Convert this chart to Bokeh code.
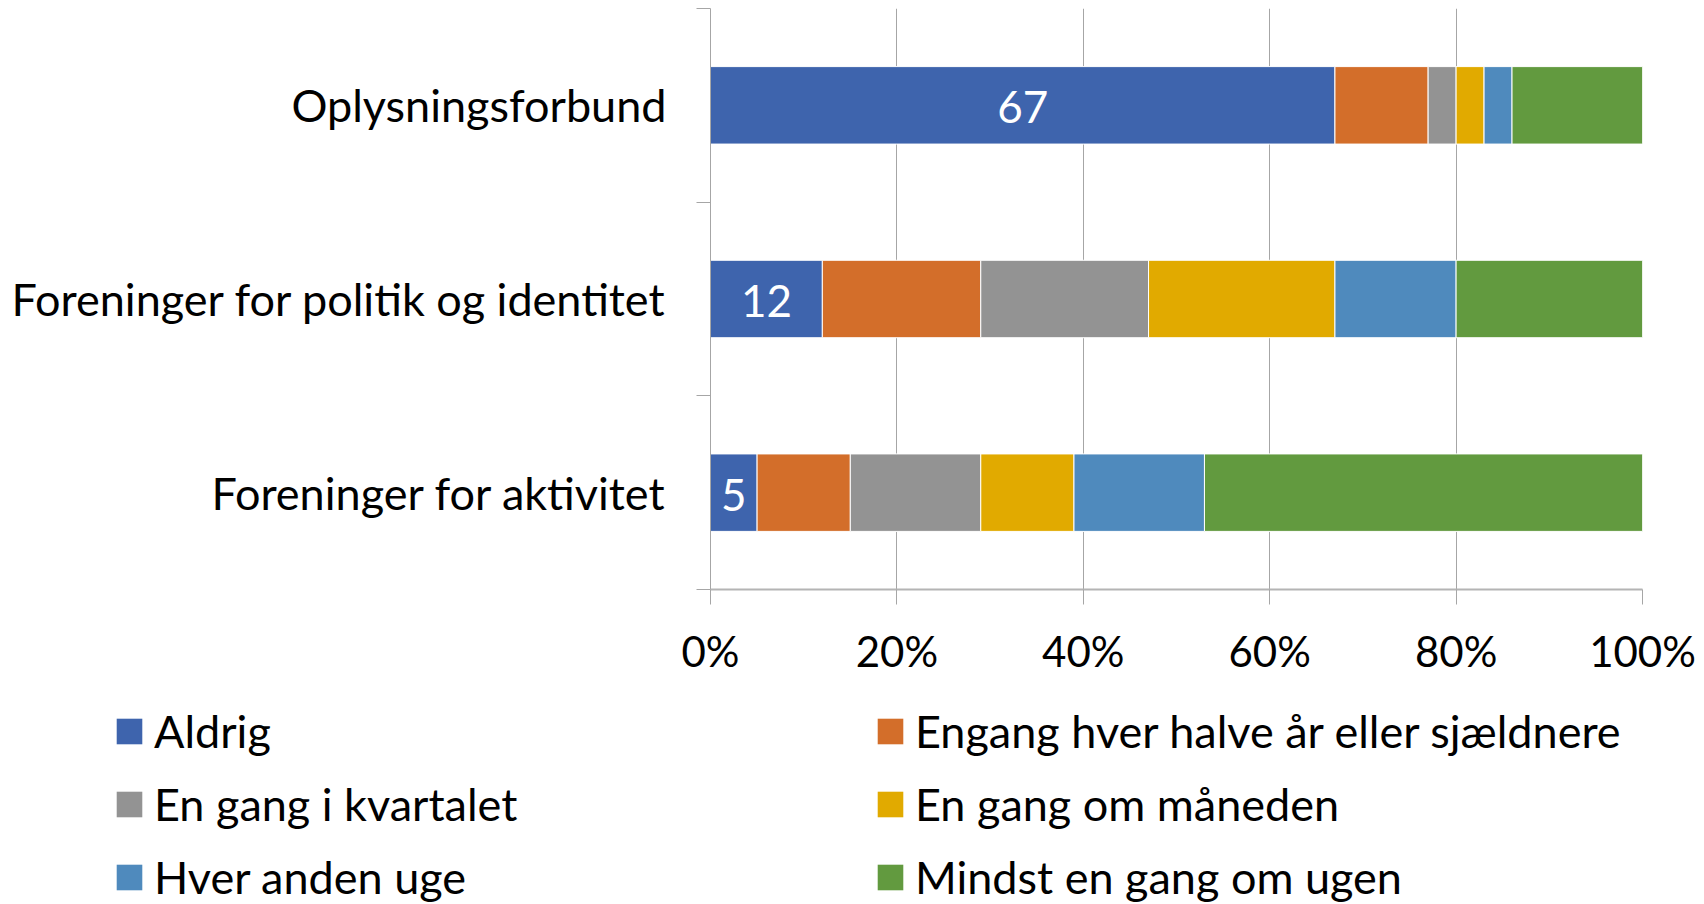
from bokeh.plotting import figure
from bokeh.layouts import column
from bokeh.models import (ColumnDataSource, FixedTicker, Legend, LegendItem,
                          Range1d, LabelSet)
from bokeh.core.properties import value
from bokeh.embed import file_html
from bokeh.resources import INLINE

categories = ["Foreninger for aktivitet", "Foreninger for politik og identitet", "Oplysningsforbund"]
series_names = ["Aldrig", "Engang hver halve år eller sjældnere", "En gang i kvartalet",
                "En gang om måneden", "Hver anden uge", "Mindst en gang om ugen"]
aldrig = [5, 12, 67]
halvaar = [10, 17, 10]
kvartal = [14, 18, 3]
maaned = [10, 20, 3]
anden_uge = [14, 13, 3]
ugen = [47, 20, 14]
colors = ["#3E64AD", "#D36E2A", "#939393", "#E1AA00", "#4F8ABD", "#629A3F"]
x_ticks = [0, 20, 40, 60, 80, 100]

FONT = "Lato"
FS = "45px"
TICK_FS = "42px"
LABEL_FS = "44px"

keys = ["s0", "s1", "s2", "s3", "s4", "s5"]
ypos = list(range(len(categories)))
data = dict(y=ypos, cat=categories)
for k, v in zip(keys, [aldrig, halvaar, kvartal, maaned, anden_uge, ugen]):
    data[k] = v
data["lbl_x"] = [a / 2 for a in aldrig]
data["lbl"] = [str(a) for a in aldrig]
src = ColumnDataSource(data)

p = figure(frame_width=932, frame_height=581, output_backend="svg", toolbar_location=None,
           x_range=Range1d(0, 100), y_range=Range1d(-0.5, 2.5),
           min_border_left=710, min_border_right=62, min_border_top=8, min_border_bottom=91)
p.outline_line_color = None
p.background_fill_color = "white"

renderers = p.hbar_stack(keys, y="y", height=0.4, color=colors, source=src,
                         line_color="white", line_width=1)

labels = LabelSet(x="lbl_x", y="y", text="lbl", source=src, text_color="white",
                  text_font=value(FONT), text_font_size=LABEL_FS, text_align="center",
                  text_baseline="middle", y_offset=-2)
p.add_layout(labels)

# x axis
p.xaxis.ticker = FixedTicker(ticks=x_ticks, minor_ticks=[])
p.xaxis.major_label_overrides = {t: f"{t}%" for t in x_ticks}
p.xaxis.axis_line_color = "#B4B4B4"
p.xaxis.axis_line_width = 2
p.xaxis.major_tick_line_color = "#A6A6A6"
p.xaxis.major_tick_out = 15
p.xaxis.major_tick_in = 0
p.xaxis.major_label_text_font = FONT
p.xaxis.major_label_text_font_size = TICK_FS
p.xaxis.major_label_text_color = "black"
p.xaxis.major_label_standoff = 21

# y axis
p.yaxis.ticker = FixedTicker(ticks=ypos, minor_ticks=[-0.5, 0.5, 1.5, 2.5])
p.yaxis.major_label_overrides = {i: c for i, c in zip(ypos, categories)}
p.yaxis.axis_line_color = "#A6A6A6"
p.yaxis.major_tick_out = 0
p.yaxis.major_tick_in = 0
p.yaxis.minor_tick_out = 14
p.yaxis.minor_tick_in = 0
p.yaxis.minor_tick_line_color = "#A6A6A6"
p.yaxis.major_label_text_font = FONT
p.yaxis.major_label_text_font_size = FS
p.yaxis.major_label_text_color = "black"
p.yaxis.major_label_standoff = 30

p.xgrid.ticker = FixedTicker(ticks=x_ticks)
p.xgrid.grid_line_color = "#A6A6A6"
p.ygrid.grid_line_color = None

# legend figure below the chart; its bars have zero height, so only the
# legend entries (which take the bars' colours) are visible
lf = figure(frame_width=1704, frame_height=224, output_backend="svg", toolbar_location=None,
            x_range=Range1d(0, 100), y_range=Range1d(-0.5, 2.5),
            min_border_left=0, min_border_right=0, min_border_top=0, min_border_bottom=0)
lf.axis.visible = False
lf.grid.visible = False
lf.outline_line_color = None
leg_renderers = lf.hbar_stack(keys, y="y", height=0, color=colors, source=src,
                              line_color=None)

items = [LegendItem(label=n, renderers=[r]) for n, r in zip(series_names, leg_renderers)]
legend = Legend(items=items, location=(113, 0), orientation="horizontal", ncols=2,
                glyph_width=32, glyph_height=32, label_standoff=9, label_height=46,
                label_width=701, spacing=19, padding=0, margin=0,
                border_line_color=None, background_fill_alpha=0,
                label_text_font=FONT, label_text_font_size=FS, label_text_color="black")
lf.add_layout(legend, "center")

layout = column(p, lf, spacing=0)
open("out.html", "w").write(file_html(layout, INLINE))
